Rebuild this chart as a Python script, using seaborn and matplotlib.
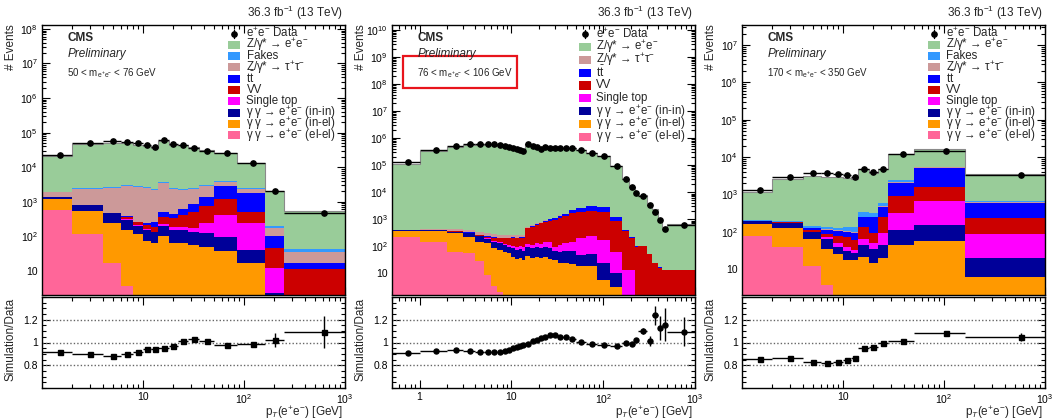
import numpy as np
import pandas as pd
import matplotlib
matplotlib.use("Agg")
import matplotlib.pyplot as plt
import matplotlib.ticker as mticker
from matplotlib.patches import Rectangle
from matplotlib.lines import Line2D
import seaborn as sns

# ---------------------------------------------------------------- processes
process_keys = ["zee", "fakes", "ztt", "tt", "vv", "st", "inin", "inel", "elel"]
process_labels = [
    "Z/γ* → e$^{+}$e$^{-}$",
    "Fakes",
    "Z/γ* → τ$^{+}$τ$^{-}$",
    "$\\mathrm{t\\bar{t}}$",
    "VV",
    "Single top",
    "γ γ → e$^{+}$e$^{-}$ (in-in)",
    "γ γ → e$^{+}$e$^{-}$ (in-el)",
    "γ γ → e$^{+}$e$^{-}$ (el-el)",
]
process_colors = ["#99cc99", "#3399ff", "#cc9999", "#0000ff", "#cc0000",
                  "#ff00ff", "#000099", "#ff9900", "#ff6699"]
data_label = "e$^{+}$e$^{-}$ Data"

# ------------------------------------------------------- 50 < m_ee < 76 GeV
lo_edges = [1, 2, 4, 6, 8, 10, 12, 14, 18, 22, 28, 36, 50, 85, 160, 250, 1000]
lo_data = [22400, 51000, 57000, 54600, 48900, 42800, 37400, 61000, 45700,
           43700, 36600, 30000, 26200, 13500, 2040, 482]
lo_zee = [18650, 43260, 47490, 46050, 41690, 37480, 32970, 54000, 41850,
          41870, 35460, 27350, 21540, 10860, 1877, 485]
lo_fakes = [85, 105, 176, 140, 188, 176, 150, 395, 215, 150, 157, 200, 269, 105, 26, 6]
lo_ztt = [529, 1522, 2064, 2526, 2459, 2310, 1929, 2908, 1891, 1581, 1421,
          1451, 884, 504, 75, 19.4]
lo_tt = [0, 3, 4, 16, 11, 25, 63, 123, 111, 189, 344, 631, 1739, 1313, 57, 5.5]
lo_vv = [0, 3, 6, 53, 40, 52, 54, 143, 149, 222, 345, 531, 760, 268, 33, 11]
lo_st = [0, 3, 3, 20, 10, 8, 6, 23, 29, 38, 34, 115, 315, 207, 9.5, 0]
lo_inin = [165, 253, 214, 144, 89, 79, 67.5, 101, 87, 89.5, 80, 72, 59, 23.5, 2.3, 0]
lo_inel = [590, 431, 230, 148, 114, 73, 62.5, 102, 65, 62.5, 56, 50, 38.4, 16.5, 0, 0]
lo_elel = [580, 120, 16.5, 3.7, 0, 0, 0, 0, 0, 0, 0, 0, 0, 0, 0, 0]
lo_ratio = [0.919, 0.896, 0.881, 0.899, 0.913, 0.939, 0.945, 0.948, 0.971,
            1.012, 1.035, 1.014, 0.977, 0.983, 1.02, 1.093]
lo_ratio_err = [0.006, 0.004, 0.004, 0.004, 0.004, 0.005, 0.005, 0.004, 0.005,
                0.005, 0.006, 0.006, 0.007, 0.010, 0.062, 0.137]

# ------------------------------------------------------ 76 < m_ee < 106 GeV
mid_edges = [0.5, 1, 2, 3, 4, 5, 6, 7, 8, 9, 10, 11, 12, 13, 14, 16, 18, 20, 22,
             25, 28, 32, 36, 42, 50, 65, 85, 120, 160, 190, 220, 240, 300, 340,
             400, 440, 500, 1000]
mid_data = [1.28e5, 3.55e5, 5.13e5, 5.92e5, 6.27e5, 6.27e5, 5.92e5, 5.59e5,
            5.28e5, 4.85e5, 4.46e5, 4.1e5, 3.76e5, 3.45e5, 6.09e5, 5.28e5,
            4.58e5, 3.92e5, 4.85e5, 4.21e5, 4.46e5, 4.46e5, 4.33e5, 4.21e5,
            3.55e5, 2.91e5, 2.25e5, 9.6e4, 3.0e4, 1.61e4, 9100, 7500, 3370,
            1910, 940, 449, 614]
mid_zee = [115690, 326860, 476680, 547200, 572150, 572200, 540220, 510130,
           489740, 452250, 422540, 392150, 364840, 337850, 599960, 534810,
           467780, 408100, 507895, 448160, 474790, 467817, 451270, 430980,
           354395, 285195, 216420, 91419, 29415, 15648, 9175, 8154, 3364,
           2340, 1045, 504, 659]
mid_ztt = [15, 40, 60, 75, 75, 64, 64, 58, 57, 51, 47, 44, 40, 37, 50, 45, 40,
           40, 35, 30, 30, 25, 20, 20, 20, 20, 20, 10, 5, 2, 2, 1, 1, 0.5, 0.3,
           0.2, 0.2]
mid_tt = [2, 2, 5, 5, 5, 6, 6, 7, 8, 9, 10, 11, 12, 13, 20, 25, 40, 50, 80, 110,
          143, 277, 252, 545, 777, 1165, 957, 350, 33, 23, 13, 3, 2, 1, 0.5,
          0.5, 0.5]
mid_vv = [2, 4, 10, 15, 23, 32, 50, 63, 74, 82, 103, 107, 108, 111, 345, 405,
          510, 586, 650, 760, 841, 969, 1229, 1507, 1711, 1773, 1632, 798,
          354, 184, 92, 100, 50, 23.4, 16.2, 12.9, 12.9]
mid_st = [1, 2, 5, 5, 7, 8, 10, 12, 14, 16, 18, 20, 22, 24, 28, 31, 35, 40, 48,
          56, 30, 52, 62, 81, 149, 197, 148, 53, 13.3, 13.3, 0, 0, 0, 0, 0, 0, 0]
mid_inin = [24, 26, 45, 73, 85, 60, 66, 57, 49, 42, 43, 40, 44, 40, 54, 48, 54,
            48, 53, 50, 36, 36.6, 42, 45, 29, 31, 17.7, 6.8, 0, 0, 0, 0, 0, 0,
            0, 0, 0]
mid_inel = [136, 226, 240, 172, 122, 121, 80.5, 71, 63, 55, 41, 33, 36, 30, 43,
            36, 41, 36, 39, 34, 31, 23.4, 25, 22, 18.7, 19.2, 5.7, 3.2, 0, 0,
            0, 0, 0, 0, 0, 0, 0]
mid_elel = [230, 140, 60, 55, 28, 9, 3.5, 2, 0, 0, 0, 0, 0, 0, 0, 0, 0, 0, 0, 0,
            0, 0, 0, 0, 0, 0, 0, 0, 0, 0, 0, 0, 0, 0, 0, 0, 0]
mid_ratio = [0.907, 0.922, 0.930, 0.925, 0.913, 0.913, 0.913, 0.913, 0.928,
             0.933, 0.948, 0.957, 0.971, 0.980, 0.986, 1.014, 1.023, 1.043,
             1.049, 1.067, 1.067, 1.052, 1.046, 1.029, 1.006, 0.991, 0.974,
             0.965, 0.994, 0.986, 1.020, 1.101, 1.014, 1.238, 1.130, 1.154,
             1.096]
mid_ratio_err = [0.005, 0.003, 0.003, 0.003, 0.003, 0.003, 0.003, 0.003, 0.003,
                 0.003, 0.003, 0.003, 0.003, 0.003, 0.003, 0.003, 0.003, 0.003,
                 0.003, 0.003, 0.003, 0.003, 0.003, 0.003, 0.003, 0.003, 0.004,
                 0.005, 0.008, 0.012, 0.016, 0.030, 0.046, 0.080, 0.104, 0.145,
                 0.126]

# ----------------------------------------------------- 170 < m_ee < 350 GeV
hi_edges = [1, 2, 4, 6, 8, 10, 12, 14, 18, 22, 28, 50, 160, 1000]
hi_data = [1320, 2940, 3690, 3690, 3540, 3260, 2940, 4920, 4000, 4820, 12100,
           14900, 3330]
hi_zee = [929, 2337, 2903, 2893, 2799, 2625, 2401, 4319, 3502, 4210, 9823,
          10631, 2833]
hi_fakes = [3, 5, 15, 15, 15, 27, 40, 90, 71, 115, 297, 200, 40]
hi_ztt = [1, 2, 5, 5, 4, 4, 5, 10, 10, 25, 80, 50, 10]
hi_tt = [2, 5, 12, 25, 28, 30, 33, 112, 153, 225, 1160, 3676, 370]
hi_vv = [1, 4, 11, 16, 28, 32, 27, 70, 42, 153, 596, 870, 152]
hi_st = [1, 3, 5, 8, 10, 10, 7, 18, 16, 47, 201, 527, 68]
hi_inin = [33, 50, 33, 28, 15, 12, 9, 23, 19, 25, 68, 96, 14]
hi_inel = [85, 86, 52, 32, 25, 18, 17.5, 22, 15, 20, 45, 57, 6.1]
hi_elel = [78, 39, 12.3, 3.8, 0, 0, 0, 0, 0, 0, 0, 0, 0]
hi_ratio = [0.858, 0.861, 0.826, 0.820, 0.826, 0.846, 0.864, 0.948, 0.957,
            1.000, 1.014, 1.081, 1.049]
hi_ratio_err = [0.015, 0.008, 0.006, 0.006, 0.006, 0.006, 0.006, 0.005, 0.006,
                0.005, 0.004, 0.004, 0.035]

# ------------------------------------------------------------------- style
sns.set_style("ticks")
plt.rcParams["font.family"] = ["Liberation Sans", "DejaVu Sans"]
plt.rcParams.update({
    "mathtext.fontset": "custom",
    "mathtext.rm": "Liberation Sans",
    "mathtext.it": "Liberation Sans:italic",
    "mathtext.bf": "Liberation Sans:bold",
    "mathtext.sf": "Liberation Sans",
    "axes.edgecolor": "black",
    "axes.linewidth": 1.0,
    "xtick.color": "black",
    "ytick.color": "black",
    "xtick.labelsize": 7.5,
    "ytick.labelsize": 7.5,
})

W, H = 1053, 420
fig = plt.figure(figsize=(W / 100, H / 100), dpi=100)


def fx(x):
    return x / W


def fy(y):
    return 1 - y / H


palette = dict(zip(process_keys, process_colors))
label_of = dict(zip(process_keys, process_labels))


def decade_label(v, pos=None):
    k = int(round(np.log10(v)))
    if k == 0:
        return "1"
    if k == 1:
        return "10"
    return "10$^{%d}$" % k


def style_log_x(ax, xticks, xlim):
    ax.set_xscale("log")
    ax.set_xlim(*xlim)
    ax.xaxis.set_major_locator(mticker.FixedLocator(xticks))
    ax.xaxis.set_major_formatter(mticker.FuncFormatter(decade_label))
    ax.xaxis.set_minor_locator(mticker.LogLocator(base=10, subs=np.arange(2, 10), numticks=40))
    ax.xaxis.set_minor_formatter(mticker.NullFormatter())


def draw_key(x_left, y_first, step, keys, text_dx):
    rows = ["data"] + keys
    for i, key in enumerate(rows):
        yc = y_first + i * step
        if key == "data":
            fig.add_artist(Line2D([fx(x_left + 6)] * 2, [fy(yc - 4), fy(yc + 4)],
                                  color="black", lw=1))
            fig.add_artist(Line2D([fx(x_left + 6)], [fy(yc)], marker="o", ms=3.8,
                                  color="black", ls="none"))
            txt = data_label
        else:
            fig.add_artist(Rectangle((fx(x_left), fy(yc + 4)), 12 / W, 8 / H,
                                     transform=fig.transFigure,
                                     facecolor=palette[key], edgecolor="none"))
            txt = label_of[key]
        fig.text(fx(x_left + text_dx), fy(yc), txt, ha="left", va="center",
                 fontsize=8.3)


def draw_panel(x0, x1, edges, comps, keys, data, ratio, ratio_err, ylim, xlim,
               xticks, ratio_marker, mass_text, key_cfg):
    ax = fig.add_axes([fx(x0), fy(295), (x1 - x0) / W, 270 / H])
    rax = fig.add_axes([fx(x0), fy(388), (x1 - x0) / W, 91 / H])

    edge_arr = np.asarray(edges, dtype=float)
    centers = 0.5 * (edge_arr[:-1] + edge_arr[1:])
    xerr = [centers - edge_arr[:-1], edge_arr[1:] - centers]

    frames = [pd.DataFrame({"pt": centers, "events": np.asarray(comps[k], float),
                            "process": k}) for k in keys]
    df = pd.concat(frames, ignore_index=True)
    sns.histplot(data=df, x="pt", weights="events", hue="process",
                 hue_order=keys, palette=palette, bins=list(edge_arr),
                 multiple="stack", element="step", fill=True, alpha=1,
                 linewidth=0, legend=False, ax=ax)

    # thin outline along the top of the summed prediction
    sns.histplot(data=df, x="pt", weights="events", bins=list(edge_arr),
                 element="step", fill=False, color="#8a8a8a", linewidth=0.8,
                 ax=ax)

    ax.errorbar(centers, data, xerr=xerr, fmt="o", ms=3.8, color="black",
                lw=1, capsize=0, zorder=5)

    ax.set_yscale("log")
    ax.set_ylim(*ylim)
    ax.yaxis.set_major_locator(mticker.LogLocator(base=10, numticks=40))
    ax.yaxis.set_major_formatter(mticker.FuncFormatter(decade_label))
    ax.yaxis.set_minor_locator(mticker.LogLocator(base=10, subs=np.arange(2, 10), numticks=40))
    ax.yaxis.set_minor_formatter(mticker.NullFormatter())
    style_log_x(ax, xticks, xlim)
    ax.set_xlabel("")
    ax.set_ylabel("")
    ax.tick_params(which="both", direction="in", top=True, right=True,
                   labelbottom=False, width=0.8, pad=3)
    ax.tick_params(which="major", length=6)
    ax.tick_params(which="minor", length=3)

    # ratio panel
    for level in (0.8, 1.0, 1.2):
        rax.axhline(level, color="#666666", lw=1, ls=(0, (1, 1.5)), zorder=1)
    rax.errorbar(centers, ratio, xerr=xerr, yerr=ratio_err, fmt=ratio_marker,
                 ms=3.6, color="black", lw=1, capsize=0, zorder=5)
    rax.set_ylim(0.6, 1.4)
    rax.yaxis.set_major_locator(mticker.FixedLocator([0.8, 1.0, 1.2]))
    rax.yaxis.set_major_formatter(mticker.FixedFormatter(["0.8", "1", "1.2"]))
    rax.yaxis.set_minor_locator(mticker.MultipleLocator(0.05))
    style_log_x(rax, xticks, xlim)
    rax.tick_params(which="both", direction="in", top=True, right=True,
                    width=0.8, pad=3)
    rax.tick_params(which="major", length=6)
    rax.tick_params(which="minor", length=3)

    # annotations
    fig.text(fx(x1 - 2), fy(13), "36.3 fb$^{-1}$ (13 TeV)", ha="right",
             va="center", fontsize=8.5)
    fig.text(fx(x0 + 25), fy(38), "CMS", ha="left", va="center", fontsize=8.5,
             fontweight="bold")
    fig.text(fx(x0 + 26), fy(53.5), "Preliminary", ha="left", va="center",
             fontsize=8.5, fontstyle="italic")
    fig.text(fx(x0 + 25), fy(73), mass_text, ha="left", va="center", fontsize=7)
    fig.text(fx(x0 - 31), fy(24), "# Events", rotation=90, ha="center",
             va="top", fontsize=8.5)
    fig.text(fx(x0 - 31), fy(298), "Simulation/Data", rotation=90, ha="center",
             va="top", fontsize=8.5)
    fig.text(fx(x1 - 2), fy(413), "p$_{T}$(e$^{+}$e$^{-}$) [GeV]", ha="right",
             va="center", fontsize=8.5)
    draw_key(*key_cfg)
    return ax, rax


lo_comps = dict(zee=lo_zee, fakes=lo_fakes, ztt=lo_ztt, tt=lo_tt, vv=lo_vv,
                st=lo_st, inin=lo_inin, inel=lo_inel, elel=lo_elel)
mid_comps = dict(zee=mid_zee, ztt=mid_ztt, tt=mid_tt, vv=mid_vv, st=mid_st,
                 inin=mid_inin, inel=mid_inel, elel=mid_elel)
hi_comps = dict(zee=hi_zee, fakes=hi_fakes, ztt=hi_ztt, tt=hi_tt, vv=hi_vv,
                st=hi_st, inin=hi_inin, inel=hi_inel, elel=hi_elel)
mid_keys = [k for k in process_keys if k != "fakes"]

draw_panel(42, 345, lo_edges, lo_comps, process_keys, lo_data, lo_ratio,
           lo_ratio_err, (2.0, 1.3e8), (1, 1000), [10, 100, 1000], "s",
           "50 < m$_{\\mathrm{e^{+}e^{-}}}$ < 76 GeV",
           (228, 33.5, 11.3, process_keys, 18.5))
draw_panel(392, 695, mid_edges, mid_comps, mid_keys, mid_data, mid_ratio,
           mid_ratio_err, (1.58, 1.55e10), (0.5, 1000), [1, 10, 100, 1000], "o",
           "76 < m$_{\\mathrm{e^{+}e^{-}}}$ < 106 GeV",
           (579, 34.3, 12.8, mid_keys, 17))
draw_panel(742, 1045, hi_edges, hi_comps, process_keys, hi_data, hi_ratio,
           hi_ratio_err, (2.06, 3.4e7), (1, 1000), [10, 100, 1000], "s",
           "170 < m$_{\\mathrm{e^{+}e^{-}}}$ < 350 GeV",
           (928, 33.5, 11.3, process_keys, 18))

# highlight box around the mass window of the central panel
fig.add_artist(Rectangle((fx(402.7), fy(87.7)), 114 / W, 31.7 / H,
                         transform=fig.transFigure, fill=False,
                         edgecolor="#e8141c", lw=1.6))

fig.savefig("out.png", dpi=100)
